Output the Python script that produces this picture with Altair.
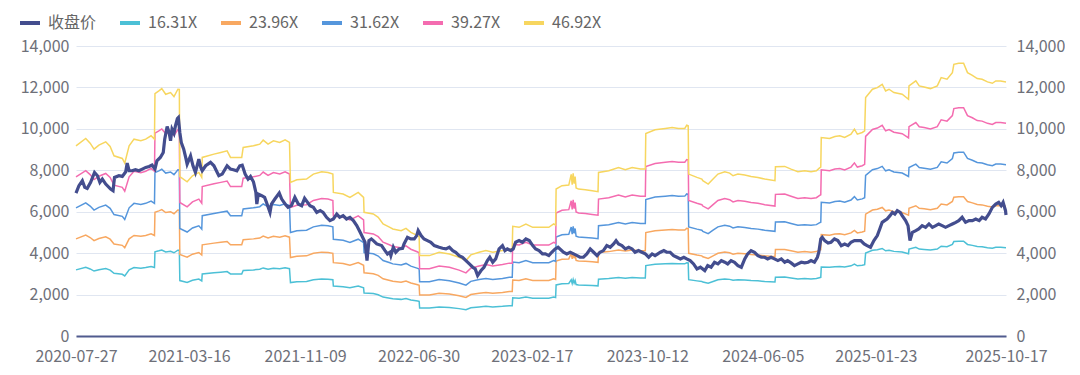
import altair as alt
import pandas as pd

FONT = "Noto Sans CJK SC"

# ---------------- data ----------------
series_names = ["收盘价", "16.31X", "23.96X", "31.62X", "39.27X", "46.92X"]
pe_multiples = [16.31, 23.96, 31.62, 39.27, 46.92]
series_colors = ["#434d8e", "#4cc0d6", "#f8a861", "#5596dc", "#f46cb0", "#f7d65f"]

x_tick_labels = ["2020-07-27", "2021-03-16", "2021-11-09", "2022-06-30", "2023-02-17",
                 "2023-10-12", "2024-06-05", "2025-01-23", "2025-10-17"]
y_tick_values = [0, 2000, 4000, 6000, 8000, 10000, 12000, 14000]

close_dates = [
    # 2020
    "2020-07-27", "2020-08-02", "2020-08-09", "2020-08-14", "2020-08-19", "2020-08-26",
    "2020-09-03", "2020-09-09", "2020-09-14", "2020-09-19", "2020-09-26",
    "2020-10-06", "2020-10-11", "2020-10-14", "2020-10-23", "2020-10-30",
    "2020-11-06", "2020-11-09", "2020-11-13", "2020-11-19", "2020-11-26",
    "2020-12-03", "2020-12-10", "2020-12-17", "2020-12-24", "2020-12-30",
    # 2021
    "2021-01-05", "2021-01-09", "2021-01-16", "2021-01-22", "2021-01-25", "2021-01-30",
    "2021-02-03", "2021-02-06", "2021-02-09", "2021-02-13", "2021-02-16", "2021-02-20", "2021-02-22", "2021-02-25", "2021-02-28",
    "2021-03-05", "2021-03-09", "2021-03-12", "2021-03-19", "2021-03-24", "2021-03-29",
    "2021-04-05", "2021-04-09", "2021-04-12", "2021-04-19", "2021-04-29",
    "2021-05-06", "2021-05-11", "2021-05-16", "2021-05-23",
    "2021-06-02", "2021-06-09", "2021-06-15", "2021-06-22", "2021-06-28",
    "2021-07-03", "2021-07-09", "2021-07-15", "2021-07-20", "2021-07-26", "2021-07-31",
    "2021-08-02", "2021-08-05", "2021-08-12", "2021-08-18", "2021-08-23", "2021-08-29",
    "2021-09-01", "2021-09-08", "2021-09-17", "2021-09-22", "2021-09-29",
    "2021-10-05", "2021-10-12", "2021-10-19", "2021-10-26",
    "2021-11-02", "2021-11-08", "2021-11-19", "2021-11-26",
    "2021-12-03", "2021-12-10", "2021-12-16", "2021-12-23", "2021-12-30",
    # 2022
    "2022-01-06", "2022-01-13", "2022-01-19", "2022-01-26",
    "2022-02-02", "2022-02-09", "2022-02-16", "2022-02-23",
    "2022-03-02", "2022-03-07", "2022-03-12", "2022-03-16", "2022-03-20", "2022-03-25", "2022-03-29",
    "2022-04-05", "2022-04-15", "2022-04-22", "2022-04-27",
    "2022-05-02", "2022-05-04", "2022-05-09", "2022-05-14", "2022-05-21", "2022-05-28", "2022-05-31",
    "2022-06-07", "2022-06-14", "2022-06-21", "2022-06-26", "2022-06-29",
    "2022-07-05", "2022-07-11", "2022-07-18", "2022-07-25",
    "2022-08-01", "2022-08-11", "2022-08-18", "2022-08-25",
    "2022-09-01", "2022-09-08", "2022-09-14", "2022-09-21", "2022-09-28",
    "2022-10-05", "2022-10-12", "2022-10-19", "2022-10-24", "2022-10-29",
    "2022-11-05", "2022-11-11", "2022-11-18", "2022-11-23", "2022-11-29",
    "2022-12-05", "2022-12-12", "2022-12-19", "2022-12-24", "2022-12-29",
    # 2023
    "2023-01-05", "2023-01-10", "2023-01-15", "2023-01-22", "2023-01-29",
    "2023-02-05", "2023-02-12", "2023-02-19", "2023-02-25",
    "2023-03-04", "2023-03-11", "2023-03-17", "2023-03-24", "2023-03-30",
    "2023-04-06", "2023-04-12", "2023-04-23", "2023-04-30",
    "2023-05-07", "2023-05-14", "2023-05-21", "2023-05-27",
    "2023-06-03", "2023-06-10", "2023-06-17", "2023-06-24",
    "2023-07-01", "2023-07-07", "2023-07-14", "2023-07-21", "2023-07-28",
    "2023-08-04", "2023-08-09", "2023-08-14", "2023-08-21", "2023-08-28",
    "2023-09-04", "2023-09-11", "2023-09-17", "2023-09-24",
    "2023-10-01", "2023-10-08", "2023-10-15", "2023-10-22", "2023-10-28",
    "2023-11-08", "2023-11-15", "2023-11-21", "2023-11-28",
    "2023-12-05", "2023-12-12", "2023-12-19", "2023-12-26",
    # 2024
    "2024-01-01", "2024-01-08", "2024-01-15", "2024-01-22", "2024-01-29",
    "2024-02-07", "2024-02-13", "2024-02-20", "2024-02-27",
    "2024-03-05", "2024-03-12", "2024-03-19", "2024-03-25",
    "2024-04-01", "2024-04-08", "2024-04-15", "2024-04-22", "2024-04-29",
    "2024-05-05", "2024-05-12", "2024-05-19", "2024-05-26",
    "2024-06-02", "2024-06-09", "2024-06-15", "2024-06-22", "2024-06-29",
    "2024-07-06", "2024-07-13", "2024-07-20", "2024-07-26",
    "2024-08-02", "2024-08-09", "2024-08-16", "2024-08-23", "2024-08-30",
    "2024-09-06", "2024-09-12", "2024-09-19", "2024-09-25", "2024-09-28",
    "2024-10-02", "2024-10-05", "2024-10-10", "2024-10-17", "2024-10-23", "2024-10-30",
    "2024-11-06", "2024-11-13", "2024-11-20", "2024-11-27",
    "2024-12-03", "2024-12-10", "2024-12-16", "2024-12-23", "2024-12-30",
    # 2025
    "2025-01-05", "2025-01-12", "2025-01-19", "2025-01-26", "2025-01-31",
    "2025-02-05", "2025-02-10", "2025-02-15", "2025-02-21", "2025-02-26",
    "2025-03-03", "2025-03-08", "2025-03-14", "2025-03-18", "2025-03-25", "2025-03-30",
    "2025-04-03", "2025-04-08", "2025-04-15", "2025-04-21", "2025-04-28",
    "2025-05-05", "2025-05-12", "2025-05-19", "2025-05-26",
    "2025-06-01", "2025-06-08", "2025-06-15", "2025-06-22", "2025-06-29",
    "2025-07-06", "2025-07-12", "2025-07-19", "2025-07-26",
    "2025-08-02", "2025-08-09", "2025-08-16", "2025-08-23", "2025-08-29",
    "2025-09-05", "2025-09-12", "2025-09-19", "2025-09-26",
    "2025-10-02", "2025-10-07", "2025-10-11", "2025-10-16", "2025-10-17",
]

close_values = [
    # 2020
    6901, 7255, 7496, 7174, 7126, 7415,
    7897, 7737, 7415, 7576, 7335,
    7094, 7014, 7656, 7737, 7704,
    7929, 8347, 7977, 7977, 8026,
    7977, 8058, 8138, 8186, 8251,
    # 2021
    8058, 8459, 8620, 8861, 9503, 10113,
    9824, 9423, 9985, 9792, 10146, 10499, 10547, 9824, 9343,
    9021, 8620, 8299, 8700, 8218, 7897,
    8540, 8138, 7977, 8218, 8379,
    8218, 7977, 7737, 7817,
    8218, 8058, 8026, 7977, 8218,
    8251, 7817, 7576, 7704, 7447, 6934,
    6372, 6853, 6773, 6693, 6372, 5970,
    6372, 6612, 6901, 6612, 6372,
    6211, 6291, 6693, 6372,
    6291, 6645, 6291, 6211,
    5970, 6050, 5970, 5729, 5569,
    # 2022
    5649, 5890, 5729, 5810,
    5649, 5729, 5569, 5328,
    5006, 4766, 4525, 3641, 4605, 4685, 4605,
    4444, 4364, 4123, 3962,
    4043, 3882, 4284, 4043, 4203, 4236, 4444,
    4766, 4685, 4685, 4846, 5087,
    4846, 4685, 4605, 4525,
    4364, 4284, 4236, 4203,
    4284, 4123, 4043, 3882, 3802,
    3641, 3480, 3320, 3240, 2919,
    3159, 3320, 3641, 3802, 3561,
    3722, 4203, 4364, 4123, 4203,
    # 2023
    4123, 4203, 4525, 4605, 4525,
    4685, 4605, 4364, 4203,
    4123, 3962, 3962, 3882, 4043,
    4203, 4284, 4043, 3962,
    4043, 3962, 3882, 3802,
    3802, 3962, 4203, 4043,
    3882, 4043, 4123, 4364, 4284,
    4444, 4605, 4444, 4364, 4203,
    4284, 4203, 4043, 4123,
    4043, 3962, 3802, 3962, 3882,
    4043, 4123, 4043, 4043,
    3882, 3802, 3722, 3802,
    # 2024
    3722, 3641, 3480, 3240, 3320,
    3159, 3400, 3320, 3561,
    3480, 3641, 3561, 3480,
    3641, 3561, 3400, 3320, 3722,
    3962, 4123, 4043, 3882,
    3802, 3802, 3722, 3802, 3722,
    3641, 3722, 3561, 3641,
    3529, 3400, 3480, 3561, 3529,
    3561, 3641, 3561, 3802, 4043,
    4685, 4766, 4605, 4492, 4525, 4685,
    4605, 4364, 4444, 4364,
    4525, 4605, 4605, 4605, 4444,
    # 2025
    4364, 4284, 4605, 4846, 5167,
    5488, 5569, 5649, 5810, 5970,
    5890, 6050, 5970, 5810, 5569, 5328,
    4605, 5006, 5087, 5167, 5328,
    5247, 5408, 5247, 5328,
    5408, 5328, 5247, 5328, 5408,
    5488, 5569, 5729, 5488,
    5569, 5569, 5649, 5569, 5729,
    5649, 5890, 6211, 6372,
    6452, 6291, 6452, 6050, 5842,
]

# the 46.92X band; every band is EPS x multiple
band_dates = [
    # 2020
    "2020-07-27", "2020-08-16", "2020-08-25", "2020-09-02", "2020-09-12", "2020-09-26",
    "2020-10-05", "2020-10-13", "2020-10-30", "2020-11-04", "2020-11-13", "2020-11-23",
    "2020-12-07", "2020-12-17", "2020-12-28",
    # 2021
    "2021-01-04", "2021-01-05", "2021-01-13", "2021-01-19", "2021-01-27",
    "2021-02-06", "2021-02-13", "2021-02-21", "2021-02-24", "2021-02-25",
    "2021-03-12", "2021-03-23", "2021-04-05", "2021-04-11", "2021-04-12",
    "2021-05-06", "2021-05-20", "2021-06-02", "2021-06-09", "2021-07-02", "2021-07-05",
    "2021-07-26", "2021-08-08", "2021-08-15", "2021-08-25", "2021-09-05", "2021-09-18",
    "2021-09-29", "2021-10-08", "2021-10-10", "2021-10-23", "2021-11-12", "2021-11-26",
    "2021-12-13", "2021-12-26",
    # 2022
    "2022-01-05", "2022-01-06", "2022-01-26", "2022-02-09", "2022-02-26", "2022-03-09",
    "2022-03-10", "2022-03-29", "2022-04-08", "2022-04-18", "2022-05-02", "2022-05-08",
    "2022-05-25", "2022-06-04", "2022-06-14", "2022-06-28", "2022-07-01", "2022-07-02",
    "2022-07-22", "2022-08-11", "2022-09-01", "2022-09-21", "2022-10-05", "2022-10-15",
    "2022-11-01", "2022-11-15", "2022-11-29", "2022-12-19",
    # 2023
    "2023-01-02", "2023-01-08", "2023-01-09", "2023-01-22", "2023-02-05", "2023-02-19",
    "2023-03-11", "2023-03-24", "2023-04-03", "2023-04-07", "2023-04-08", "2023-04-20",
    "2023-05-04", "2023-05-09", "2023-05-11", "2023-05-13", "2023-05-15", "2023-05-17",
    "2023-05-19", "2023-05-24", "2023-06-07", "2023-06-21", "2023-07-03", "2023-07-04",
    "2023-07-25", "2023-08-14", "2023-08-28", "2023-09-11", "2023-09-28", "2023-10-08",
    "2023-10-09", "2023-10-28", "2023-11-18", "2023-12-02", "2023-12-15", "2023-12-28",
    # 2024
    "2024-01-01", "2024-01-04", "2024-01-05", "2024-01-22", "2024-02-01", "2024-02-03",
    "2024-02-14", "2024-02-24", "2024-03-05", "2024-03-19", "2024-03-29", "2024-04-05",
    "2024-04-15", "2024-04-29", "2024-05-12", "2024-05-26", "2024-06-09", "2024-06-30",
    "2024-07-01", "2024-07-20", "2024-08-02", "2024-08-16", "2024-08-30", "2024-09-12",
    "2024-09-23", "2024-09-29", "2024-10-02", "2024-10-03", "2024-10-20", "2024-10-31",
    "2024-11-10", "2024-11-20", "2024-12-03", "2024-12-10", "2024-12-16", "2024-12-26",
    "2024-12-31",
    # 2025
    "2025-01-02", "2025-01-16", "2025-01-26", "2025-02-05", "2025-02-12", "2025-02-19",
    "2025-03-01", "2025-03-18", "2025-03-31", "2025-04-01", "2025-04-15", "2025-04-22",
    "2025-05-02", "2025-05-15", "2025-05-29", "2025-06-06", "2025-06-18", "2025-06-29",
    "2025-07-02", "2025-07-12", "2025-07-22", "2025-07-30", "2025-08-09", "2025-08-19",
    "2025-08-29", "2025-09-09", "2025-09-19", "2025-09-26", "2025-10-06", "2025-10-17",
]

band_top_values = [
    # 2020
    9182, 9535, 9310, 9021, 9214, 9375,
    9150, 8700, 8572, 8347, 9182, 9503,
    9423, 9503, 9664,
    # 2021
    9503, 11700, 11832, 11944, 11671,
    11752, 11559, 11912, 11900, 7700,
    7447, 7736, 7897, 7656, 8620,
    8780, 8861, 8941, 8620, 8620, 9102,
    9182, 9262, 9455, 9262, 9423, 9343,
    9471, 9343, 7415, 7544, 7576, 7817,
    7929, 7897,
    # 2022
    7817, 6934, 6853, 6693, 6934, 6693,
    5970, 5890, 5729, 5408, 5247, 5167,
    5087, 5199, 5006, 4846, 4800, 3882,
    3882, 4043, 3962, 3802, 3641, 3915,
    4043, 4123, 4043, 4123,
    # 2023
    4203, 4203, 5295, 5247, 5408, 5247,
    5247, 5247, 5408, 5350, 7094, 7255,
    7287, 7800, 7300, 7850, 7350, 7700,
    7150, 7094, 7062, 7014, 6966, 7897,
    7977, 8138, 8026, 8138, 8058, 8060,
    9776, 9953, 10017, 10065, 10017, 10020,
    # 2024
    10178, 10150, 7817, 7656, 7576, 7496,
    7335, 7576, 7817, 7929, 7865, 7737,
    7817, 7769, 7704, 7656, 7576, 7496,
    8170, 8186, 8058, 7929, 7977, 7929,
    7977, 8100, 8150, 9583, 9535, 9632,
    9664, 9583, 9744, 9985, 9744, 9824,
    9900,
    # 2025
    11511, 11912, 11992, 12153, 11832, 11912,
    11752, 11671, 11430, 12073, 12314, 12073,
    12024, 11944, 12073, 12474, 12394, 12715,
    13117, 13165, 13165, 12715, 12587, 12426,
    12394, 12266, 12201, 12314, 12314, 12266,
]

# ---------------- tables ----------------
close_df = pd.DataFrame({"date": close_dates, "value": close_values})
close_df["series"] = series_names[0]

rows = []
top_multiple = pe_multiples[-1]
for d, v in zip(band_dates, band_top_values):
    eps = v / top_multiple
    for name, m in zip(series_names[1:], pe_multiples):
        rows.append({"date": d, "series": name, "value": round(eps * m, 1)})
bands_df = pd.DataFrame(rows)


def dt(s):
    y, m, d = (int(p) for p in s.split("-"))
    return alt.DateTime(year=y, month=m, date=d, utc=True)


label_color = "#6E7079"

x_enc = alt.X(
    "date:T",
    scale=alt.Scale(type="utc", domain=[dt(x_tick_labels[0]), dt(x_tick_labels[-1])], nice=False),
    axis=alt.Axis(
        values=[dt(s) for s in x_tick_labels],
        format="%Y-%m-%d",
        labelFont=FONT, labelFontSize=16, labelColor=label_color, labelPadding=12,
        ticks=False, grid=False, domain=True, domainColor="#505b8e", domainWidth=2,
        labelFlush=False, labelOverlap=False, title=None,
    ),
)

y_scale = alt.Scale(domain=[0, 14000], nice=False)

color_enc = alt.Color(
    "series:N",
    scale=alt.Scale(domain=series_names, range=series_colors),
    legend=alt.Legend(
        orient="none", legendX=-58, legendY=-35, direction="horizontal", title=None,
        symbolType="stroke", symbolStrokeWidth=4, symbolSize=400,
        labelFont=FONT, labelFontSize=16, labelColor="#666666", labelOffset=6,
        columnPadding=15, padding=0,
    ),
)

bands = alt.Chart(bands_df).mark_line(strokeWidth=1.5).encode(
    x=x_enc,
    y=alt.Y(
        "value:Q", scale=y_scale,
        axis=alt.Axis(
            orient="left", values=y_tick_values, format=",d",
            labelFont=FONT, labelFontSize=16, labelColor=label_color, labelPadding=7,
            ticks=False, domain=False, grid=True, gridColor="#E0E6F1", gridWidth=1,
            title=None, minExtent=68, maxExtent=68,
        ),
    ),
    color=color_enc,
)

close = alt.Chart(close_df).mark_line(strokeWidth=3.2).encode(
    x=x_enc,
    y=alt.Y(
        "value:Q", scale=y_scale,
        axis=alt.Axis(
            orient="right", values=y_tick_values, format=",d",
            labelFont=FONT, labelFontSize=16, labelColor=label_color, labelPadding=10,
            ticks=False, domain=False, grid=False, title=None,
        ),
    ),
    color=color_enc,
)

chart = (
    alt.layer(bands, close)
    .resolve_axis(y="independent")
    .properties(width=930, height=290, background="white",
                padding={"left": 0, "top": 3, "right": 0, "bottom": 6})
    .configure_view(stroke=None)
)

chart.save("out.html", embed_options={"renderer": "svg", "actions": False})
